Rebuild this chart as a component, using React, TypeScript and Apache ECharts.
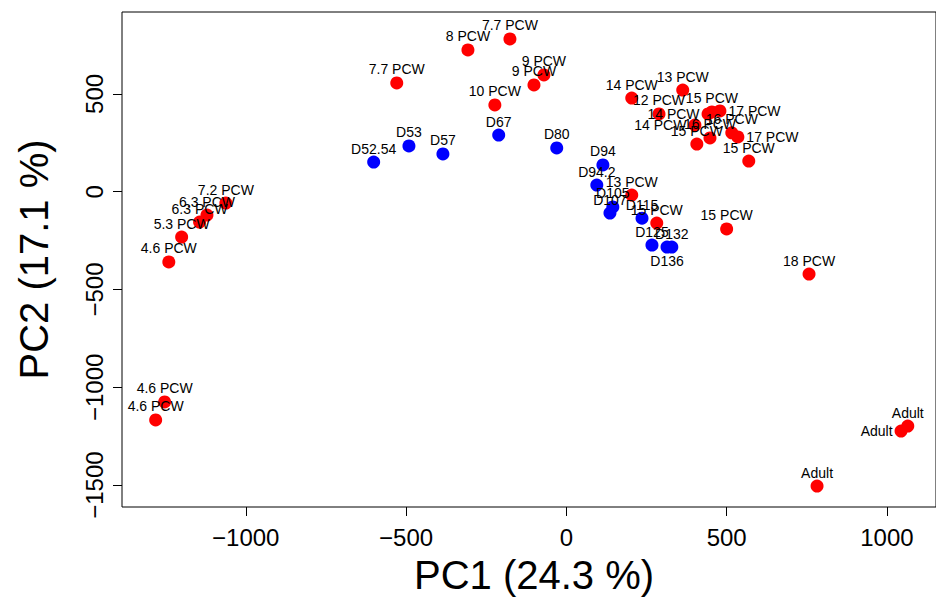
import React, { useEffect, useRef } from "react";
import * as echarts from "echarts";

// Red samples (PCW / Adult)
const redNames = [
  "7.7 PCW", "8 PCW", "7.7 PCW", "9 PCW", "9 PCW", "10 PCW",
  "14 PCW", "13 PCW", "12 PCW", "15 PCW", "14 PCW", "17 PCW",
  "14 PCW", "16 PCW", "16 PCW", "15 PCW", "17 PCW", "15 PCW",
  "13 PCW", "15 PCW", "15 PCW", "18 PCW", "Adult", "Adult", "Adult",
  "7.2 PCW", "6.3 PCW", "6.3 PCW", "5.3 PCW", "4.6 PCW", "4.6 PCW", "4.6 PCW",
];
const redX = [
  -176, -307, -529, -70, -101, -223,
  204, 363, 289, 454, 442, 479,
  401, 448, 516, 407, 535, 569,
  204, 282, 500, 757, 1065, 1044, 782,
  -1062, -1121, -1144, -1200, -1240, -1253, -1281,
];
const redY = [
  781, 725, 556, 597, 546, 444,
  479, 520, 398, 408, 398, 413,
  341, 275, 301, 244, 280, 157,
  -17, -160, -190, -421, -1198, -1224, -1505,
  -58, -119, -155, -232, -359, -1075, -1167,
];
const redLabelSide = [
  "top", "top", "top", "top", "top", "top",
  "top", "top", "top", "top", "left", "right",
  "left", "top", "top", "top", "right", "top",
  "top", "top", "top", "top", "top", "left", "top",
  "top", "top", "top", "top", "top", "top", "top",
];

// Blue samples (D-days)
const blueNames = [
  "D52.54", "D53", "D57", "D67", "D80", "D94", "D94.2",
  "D105", "D107", "D115", "D125", "D132", "D136",
];
const blueX = [-601, -491, -385, -211, -30, 114, 95, 145, 136, 236, 267, 329, 314];
const blueY = [152, 234, 193, 290, 224, 137, 34, -78, -109, -135, -273, -283, -283];
const blueLabelSide = [
  "top", "top", "top", "top", "top", "top", "top",
  "top", "top", "top", "top", "top", "bottom",
];

const xTicks = [-1000, -500, 0, 500, 1000];
const yTicks = [-1500, -1000, -500, 0, 500];

const FONT = "'Liberation Sans', Arial, Helvetica, sans-serif";

function buildData(names: string[], xs: number[], ys: number[], sides: string[]) {
  return names.map((n, i) => {
    const side = sides[i];
    const dist = side === "top" ? 0 : side === "bottom" ? 0 : 2;
    return {
      value: [xs[i], ys[i]],
      name: n,
      label: { position: side, distance: dist },
    };
  });
}

const minus = (v: number) => String(v).replace("-", "\u2212");

export default function App() {
  const ref = useRef<HTMLDivElement>(null);
  useEffect(() => {
    if (!ref.current) return;
    const chart = echarts.init(ref.current, null, { renderer: "svg" });
    const labelStyle = {
      show: true,
      formatter: (p: any) => p.name,
      color: "#000",
      fontSize: 14,
      fontFamily: FONT,
    };
    chart.setOption({
      animation: false,
      backgroundColor: "#fff",
      grid: {
        left: 122,
        top: 12,
        bottom: 96,
        right: 0,
        show: true,
        borderColor: "#000",
        borderWidth: 1,
        backgroundColor: "transparent",
      },
      xAxis: {
        type: "value",
        min: -1386,
        max: 1153,
        splitLine: { show: false },
        axisLine: { show: false, onZero: false },
        axisTick: { show: true, length: 9, customValues: xTicks, lineStyle: { color: "#000" } },
        axisLabel: {
          customValues: xTicks,
          fontSize: 24,
          color: "#000",
          fontFamily: FONT,
          margin: 18,
          formatter: minus,
        },
        name: "PC1 (24.3 %)",
        nameLocation: "middle",
        nameGap: 48,
        nameTextStyle: { fontSize: 40, color: "#000", fontFamily: FONT, padding: [0, 0, 0, 10] },
      },
      yAxis: {
        type: "value",
        min: -1612,
        max: 919,
        splitLine: { show: false },
        axisLine: { show: false, onZero: false },
        axisTick: { show: true, length: 9, customValues: yTicks, lineStyle: { color: "#000" } },
        axisLabel: {
          customValues: yTicks,
          rotate: 90,
          fontSize: 24,
          color: "#000",
          fontFamily: FONT,
          margin: 16,
          formatter: minus,
        },
        name: "PC2 (17.1 %)",
        nameLocation: "middle",
        nameGap: 68,
        nameRotate: 90,
        nameTextStyle: { fontSize: 40, color: "#000", fontFamily: FONT },
      },
      series: [
        {
          type: "scatter",
          symbolSize: 13,
          itemStyle: { color: "#ff0000", opacity: 1 },
          label: labelStyle,
          data: buildData(redNames, redX, redY, redLabelSide),
        },
        {
          type: "scatter",
          symbolSize: 13,
          itemStyle: { color: "#0000ff", opacity: 1 },
          label: labelStyle,
          data: buildData(blueNames, blueX, blueY, blueLabelSide),
        },
      ],
    });
    return () => chart.dispose();
  }, []);
  return (
    <div
      ref={ref}
      style={{ position: "fixed", left: 0, top: 0, width: 936, height: 603, background: "#fff" }}
    />
  );
}
